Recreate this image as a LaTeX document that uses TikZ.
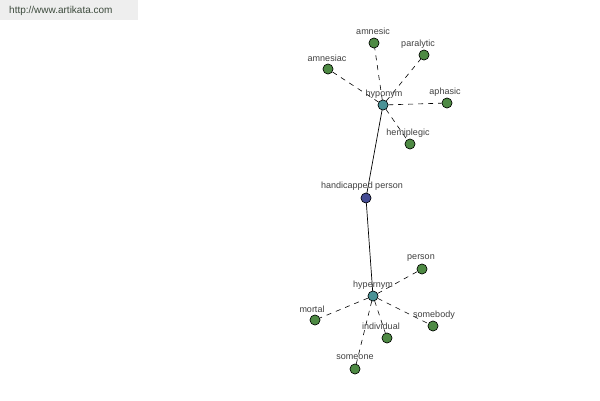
\documentclass[tikz,border=0pt]{standalone}
\usepackage{fontspec}
\setmainfont{Liberation Sans}
\begin{document}
\begin{tikzpicture}[x=1pt,y=-1pt,
  every node/.style={font=\fontsize{9}{11}\selectfont},
  dot/.style={circle,draw=black,line width=0.5pt,minimum size=10pt,inner sep=0pt},
  leaf/.style={dot,fill=leafc},
  hub/.style={dot,fill=hubc},
  root/.style={dot,fill=rootc},
  lbl/.style={text=labc,inner sep=0pt},
  dashedge/.style={draw=black,line width=0.6pt,dash pattern=on 5pt off 5pt},
  solidedge/.style={draw=black,line width=0.7pt}]
\definecolor{leafc}{HTML}{4E8A44}
\definecolor{hubc}{HTML}{4A9296}
\definecolor{rootc}{HTML}{454C94}
\definecolor{labc}{HTML}{404040}
\definecolor{hdrbg}{HTML}{EEEEEE}
\definecolor{hdrtx}{HTML}{3C4A3C}
\useasboundingbox[fill=white] (0,0) rectangle (600,400);
\fill[hdrbg] (0,0) rectangle (138,20);
\node[text=hdrtx,anchor=west,inner sep=0pt,font=\fontsize{10}{12}\selectfont] (url) at (9,11) {http://www.artikata.com};
% nodes
\node[root] (hp) at (366,198) {};
\node[hub] (hypo) at (383,105) {};
\node[hub] (hyper) at (373,296) {};
\node[leaf] (amnesic) at (374,43) {};
\node[leaf] (paralytic) at (424,55) {};
\node[leaf] (amnesiac) at (328,69) {};
\node[leaf] (aphasic) at (447,103) {};
\node[leaf] (hemiplegic) at (410,144) {};
\node[leaf] (person) at (422,269) {};
\node[leaf] (mortal) at (315,320) {};
\node[leaf] (somebody) at (433,326) {};
\node[leaf] (individual) at (387,338) {};
\node[leaf] (someone) at (355,369) {};
% edges
\path[solidedge] (hypo) -- (hp);
\path[solidedge] (hp) -- (hyper);
\foreach \n in {amnesic,paralytic,amnesiac,aphasic,hemiplegic}
  \path[dashedge] (hypo) -- (\n);
\foreach \n in {person,mortal,somebody,individual,someone}
  \path[dashedge] (hyper) -- (\n);
% labels
\node[lbl] (l-hp) at (362,186) {handicapped person};
\node[lbl] (l-hypo) at (384,94) {hyponym};
\node[lbl] (l-hyper) at (373,285) {hypernym};
\node[lbl] (l-amnesic) at (373,31) {amnesic};
\node[lbl] (l-paralytic) at (418,44) {paralytic};
\node[lbl] (l-amnesiac) at (327,58) {amnesiac};
\node[lbl] (l-aphasic) at (445,92) {aphasic};
\node[lbl] (l-hemiplegic) at (408,133) {hemiplegic};
\node[lbl] (l-person) at (421,258) {person};
\node[lbl] (l-mortal) at (312,309) {mortal};
\node[lbl] (l-somebody) at (434,315) {somebody};
\node[lbl] (l-individual) at (381,326) {individual};
\node[lbl] (l-someone) at (355,357) {someone};
% redraw dots on top
\foreach \n/\s in {hp/root,hypo/hub,hyper/hub,amnesic/leaf,paralytic/leaf,amnesiac/leaf,aphasic/leaf,hemiplegic/leaf,person/leaf,mortal/leaf,somebody/leaf,individual/leaf,someone/leaf}
  \node[\s] at (\n) {};
\end{tikzpicture}
\end{document}
